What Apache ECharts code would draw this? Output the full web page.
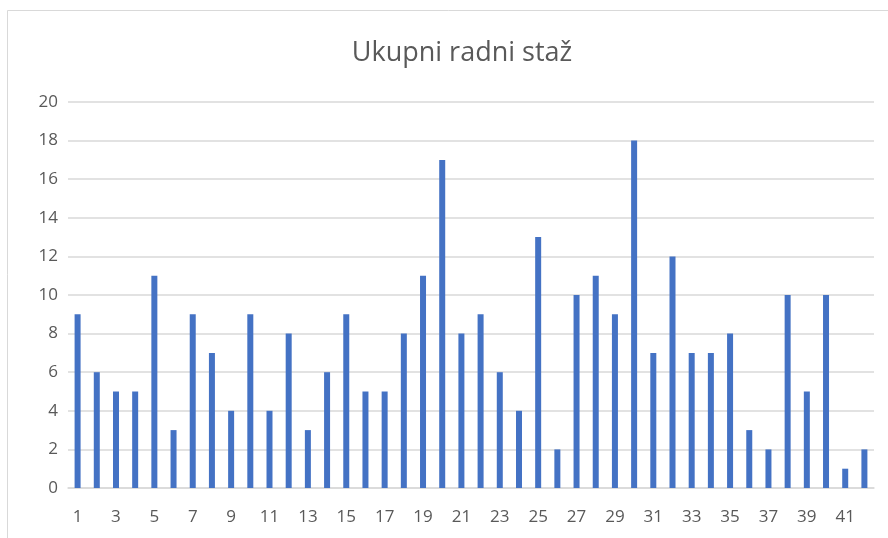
<!DOCTYPE html>
<html>
<head>
<meta charset="utf-8">
<script src="https://cdn.jsdelivr.net/npm/echarts@6/dist/echarts.min.js"></script>
<style>html,body{margin:0;padding:0;background:#fff}#c{width:888px;height:538px}</style>
</head>
<body>
<div id="c"></div>
<script>
var categories = ["1","2","3","4","5","6","7","8","9","10","11","12","13","14","15","16","17","18","19","20","21","22","23","24","25","26","27","28","29","30","31","32","33","34","35","36","37","38","39","40","41","42"];
var values = [9,6,5,5,11,3,9,7,4,9,4,8,3,6,9,5,5,8,11,17,8,9,6,4,13,2,10,11,9,18,7,12,7,7,8,3,2,10,5,10,1,2];
var chart = echarts.init(document.getElementById('c'));
chart.setOption({
  animation: false,
  backgroundColor: '#fff',
  title: {
    text: 'Ukupni radni staž', left: 457, textAlign: 'center', top: 35,
    textStyle: {fontFamily: 'Open Sans', fontWeight: 'normal', fontSize: 27, color: '#595959'}
  },
  graphic: [{type: 'rect', shape: {x: 7.5, y: 10.5, width: 900, height: 600}, style: {fill: 'none', stroke: '#d9d9d9', lineWidth: 1}, silent: true, z: -1}],
  grid: {left: 68, right: 14, top: 102, bottom: 50},
  xAxis: {
    type: 'category', data: categories,
    axisLine: {lineStyle: {color: '#d9d9d9', width: 1.5}},
    axisTick: {show: false},
    axisLabel: {interval: 1, color: '#595959', fontSize: 17, fontFamily: 'Open Sans', margin: 21}
  },
  yAxis: {
    type: 'value', min: 0, max: 20, interval: 2,
    axisLine: {show: false}, axisTick: {show: false},
    splitLine: {lineStyle: {color: '#d9d9d9', width: 1.5}},
    axisLabel: {color: '#595959', fontSize: 17, fontFamily: 'Open Sans', margin: 10}
  },
  series: [{type: 'bar', data: values, barWidth: 6, itemStyle: {color: '#4472C4'}}]
});
</script>
</body>
</html>
